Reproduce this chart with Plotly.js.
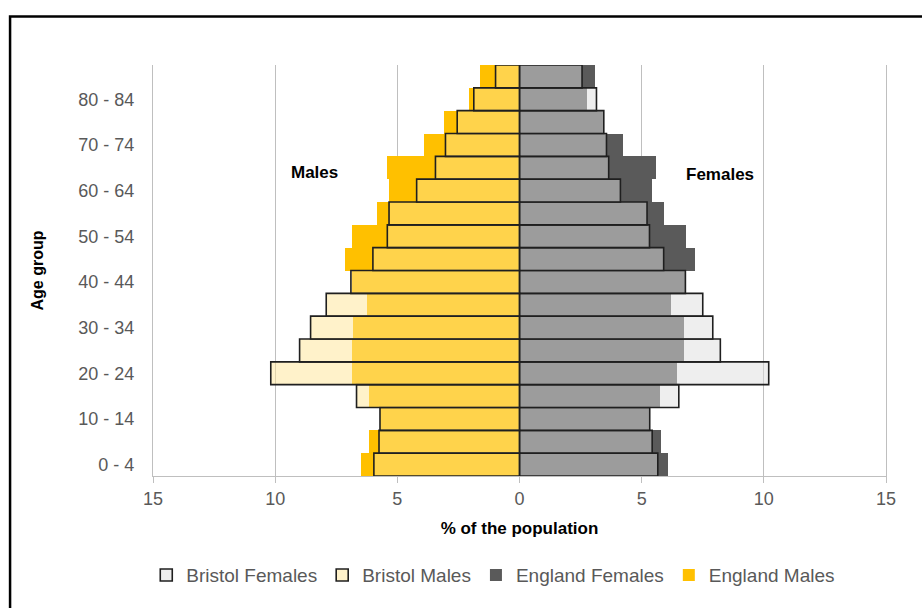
<!DOCTYPE html>
<html>
<head>
<meta charset="utf-8">
<script src="https://cdn.plot.ly/plotly-3.0.1.min.js"></script>
<style>
  html, body { margin: 0; padding: 0; background: #ffffff; }
  #chart { width: 922px; height: 608px; }
</style>
</head>
<body>
<div id="chart"></div>
<script>
// Age groups, bottom to top
const ageGroups = ["0 - 4","5 - 9","10 - 14","15 - 19","20 - 24","25 - 29","30 - 34","35 - 39","40 - 44",
                   "45 - 49","50 - 54","55 - 59","60 - 64","65 - 69","70 - 74","75 - 79","80 - 84","85+"];

// % of the population
const englandMales   = [6.48, 6.16, 5.70, 6.16, 6.84, 6.87, 6.80, 6.23, 6.85, 7.16, 6.84, 5.85, 5.34, 5.41, 3.89, 3.07, 2.07, 1.60];
const bristolMales   = [5.96, 5.75, 5.71, 6.67, 10.18, 9.00, 8.55, 7.91, 6.90, 6.00, 5.41, 5.34, 4.21, 3.44, 3.03, 2.55, 1.87, 0.98];
const englandFemales = [6.07, 5.80, 5.33, 5.74, 6.45, 6.72, 6.72, 6.18, 6.78, 7.20, 6.83, 5.90, 5.43, 5.60, 4.23, 3.40, 2.77, 3.08];
const bristolFemales = [5.66, 5.43, 5.33, 6.52, 10.20, 8.22, 7.91, 7.50, 6.79, 5.90, 5.32, 5.22, 4.13, 3.65, 3.56, 3.45, 3.15, 2.56];

const xTickVals  = [-15, -10, -5, 0, 5, 10, 15];
const xTickText  = ["15", "10", "5", "0", "5", "10", "15"];
const yTickLabels = ageGroups.filter((a, i) => i % 2 === 0);

const FONT = "'Liberation Sans Narrow', 'Arial Narrow', 'Liberation Sans', sans-serif";
const neg = arr => arr.map(v => -v);

const traces = [
  {
    type: 'bar', orientation: 'h', name: 'England Females', legendrank: 3,
    y: ageGroups, x: englandFemales,
    marker: { color: '#5a5a5a', line: { width: 0 } },
    hoverinfo: 'skip'
  },
  {
    type: 'bar', orientation: 'h', name: 'England Males', legendrank: 4,
    y: ageGroups, x: neg(englandMales),
    marker: { color: '#ffc000', line: { width: 0 } },
    hoverinfo: 'skip'
  },
  {
    type: 'bar', orientation: 'h', name: 'Bristol Females', legendrank: 1,
    y: ageGroups, x: bristolFemales,
    marker: { color: 'rgba(222,222,222,0.5)', line: { color: '#1f1f1f', width: 1.6 } },
    hoverinfo: 'skip'
  },
  {
    type: 'bar', orientation: 'h', name: 'Bristol Males', legendrank: 2,
    y: ageGroups, x: neg(bristolMales),
    marker: { color: 'rgba(255,229,150,0.5)', line: { color: '#1f1f1f', width: 1.6 } },
    hoverinfo: 'skip'
  }
];

const layout = {
  width: 922, height: 608,
  paper_bgcolor: '#ffffff', plot_bgcolor: '#ffffff',
  margin: { l: 153, r: 36, t: 65, b: 132 },
  barmode: 'overlay', bargap: 0,
  font: { family: FONT, color: '#595959', size: 17 },
  xaxis: {
    range: [-15, 15], tickvals: xTickVals, ticktext: xTickText,
    showgrid: true, gridcolor: '#bfbfbf', gridwidth: 1,
    zeroline: false, showline: true, linecolor: '#bfbfbf', linewidth: 1,
    ticks: 'outside', ticklen: 6, tickcolor: '#bfbfbf',
    tickfont: { family: FONT, size: 18, color: '#595959' },
    title: { text: '<b>% of the population</b>', font: { family: FONT, size: 17, color: '#000000' }, standoff: 14 },
    fixedrange: true
  },
  yaxis: {
    type: 'category', categoryorder: 'array', categoryarray: ageGroups,
    tickvals: yTickLabels, ticktext: yTickLabels,
    showgrid: false, zeroline: false,
    showline: true, mirror: true, linecolor: '#bfbfbf', linewidth: 1,
    ticks: '', ticklabelstandoff: 14,
    tickfont: { family: FONT, size: 18, color: '#595959' },
    title: { text: '<b>Age group</b>', font: { family: "'Liberation Sans', sans-serif", size: 16, color: '#000000' }, standoff: 30 },
    fixedrange: true
  },
  showlegend: true,
  legend: {
    orientation: 'h', xref: 'container', yref: 'container',
    x: 0.535, xanchor: 'center', y: 0.054, yanchor: 'middle',
    traceorder: 'normal', itemwidth: 30,
    font: { family: FONT, size: 19, color: '#595959' }
  },
  annotations: [
    { xref: 'x', yref: 'paper', x: -8.4, y: 0.767, text: '<b>Males</b>', showarrow: false,
      font: { family: FONT, size: 17, color: '#000000' } },
    { xref: 'x', yref: 'paper', x: 8.2, y: 0.762, text: '<b>Females</b>', showarrow: false,
      font: { family: FONT, size: 17, color: '#000000' } }
  ],
  shapes: [
    { type: 'rect', xref: 'paper', yref: 'paper', x0: -0.195, x1: 1.2, y0: -0.5, y1: 1.118,
      line: { color: '#000000', width: 2.5 }, fillcolor: 'rgba(0,0,0,0)', layer: 'below' }
  ]
};

Plotly.newPlot('chart', traces, layout, { displayModeBar: false, staticPlot: true });
</script>
</body>
</html>
